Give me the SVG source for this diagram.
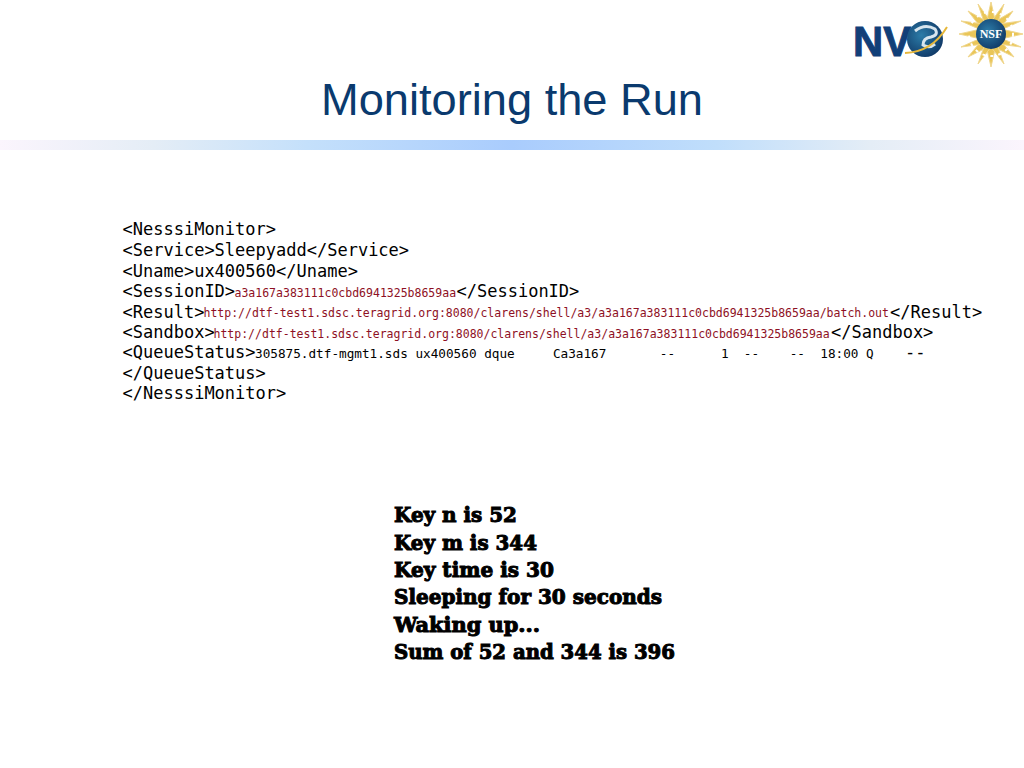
<svg xmlns="http://www.w3.org/2000/svg" width="1024" height="768" viewBox="0 0 1024 768">
<style>
.m{font-family:"DejaVu Sans Mono",monospace;font-size:17px;fill:#000}
.s{font-family:"DejaVu Sans Mono",monospace;font-size:11.5px;fill:#000;white-space:pre}
.q{font-size:12.7px}
.r{fill:#8e1024}
.k{font-family:"DejaVu Serif",serif;font-weight:bold;font-size:20px;fill:#000;stroke:#000;stroke-width:1px}
</style>
<defs>
<linearGradient id="band" x1="0" x2="1" y1="0" y2="0">
<stop offset="0" stop-color="#fbf5fd"/><stop offset=".15" stop-color="#e4edf6"/><stop offset=".3" stop-color="#c4e0fb"/><stop offset=".5" stop-color="#a9ccfd"/><stop offset=".7" stop-color="#c0defb"/><stop offset=".85" stop-color="#e4edf6"/><stop offset="1" stop-color="#fbf5fd"/>
</linearGradient>
<radialGradient id="g" cx=".4" cy=".4" r=".7"><stop offset="0" stop-color="#2c7ca8"/><stop offset="1" stop-color="#0e3462"/></radialGradient>
</defs>
<rect width="1024" height="768" fill="#fff"/>
<rect x="0" y="140" width="1024" height="10" fill="url(#band)"/>
<text id="title" x="512" y="115" text-anchor="middle" font-family="Liberation Sans,Arial,sans-serif" font-size="45" fill="#0a3a6e" textLength="382" lengthAdjust="spacingAndGlyphs">Monitoring the Run</text>
<g id="nvo-logo">
<text x="853" y="56" font-family="Liberation Sans,sans-serif" font-weight="bold" font-size="43" fill="#123f78" stroke="#123f78" stroke-width="1" textLength="58" lengthAdjust="spacingAndGlyphs">NV</text>
<circle cx="925" cy="39" r="18" fill="url(#g)"/>
<path d="M915 31q10-8 20-2q4 6-4 8q-8 1-8 8q6 4 12-1" fill="none" stroke="#d7e5ee" stroke-width="3"/>
<path d="M905 53Q932 52 947 27" fill="none" stroke="#e6b73a" stroke-width="2"/>
</g>
<g id="nsf-logo">
<g fill="#eac658" stroke="#f0d78f" stroke-width="1">
<path d="M991 2L996 24L986 24Z"/>
<path d="M1023 34L1001 39L1001 29Z"/><path d="M991 67L986 45L996 45Z"/><path d="M959 34L981 29L981 39Z"/>
<path d="M1013 11L1000 29L994 22Z"/><path d="M1014 57L994 47L1000 40Z"/><path d="M968 57L982 40L988 47Z"/><path d="M968 11L988 22L982 29Z"/>
<path d="M1004 4L997 25L991 22Z"/><path d="M1021 21L1001 30L998 24Z"/><path d="M1021 47L998 44L1001 38Z"/><path d="M1004 64L991 47L997 44Z"/><path d="M978 64L985 44L991 47Z"/><path d="M961 47L981 38L984 44Z"/><path d="M961 21L984 24L981 30Z"/><path d="M978 4L991 22L985 25Z"/>
</g>
<circle cx="991" cy="34" r="22" fill="none" stroke="#fff" stroke-width="2" stroke-dasharray="3 5"/>
<circle cx="991" cy="34" r="15" fill="url(#g)"/>
<text x="991" y="38" text-anchor="middle" font-family="Liberation Serif,serif" font-weight="bold" font-size="12" fill="#fff">NSF</text>
</g>
<g id="xml">
<text class="m" x="122.500" y="235">&lt;NesssiMonitor&gt;</text>
<text class="m" x="122.500" y="255.500">&lt;Service&gt;Sleepyadd&lt;/Service&gt;</text>
<text class="m" x="122.500" y="277">&lt;Uname&gt;ux400560&lt;/Uname&gt;</text>
<text class="m" x="122.500" y="296.500">&lt;SessionID&gt;</text>
<text class="s r" x="234.500" y="296.500">a3a167a383111c0cbd6941325b8659aa</text>
<text class="m" x="456.500" y="296.500">&lt;/SessionID&gt;</text>
<text class="m" x="122.500" y="318">&lt;Result&gt;</text>
<text class="s r" x="203.500" y="317">http://dtf-test1.sdsc.teragrid.org:8080/clarens/shell/a3/a3a167a383111c0cbd6941325b8659aa/batch.out</text>
<text class="m" x="890" y="318">&lt;/Result&gt;</text>
<text class="m" x="122.500" y="337.500">&lt;Sandbox&gt;</text>
<text class="s r" x="213.500" y="337.500">http://dtf-test1.sdsc.teragrid.org:8080/clarens/shell/a3/a3a167a383111c0cbd6941325b8659aa</text>
<text class="m" x="831" y="337.500">&lt;/Sandbox&gt;</text>
<text class="m" x="122.500" y="358">&lt;QueueStatus&gt;</text>
<text class="s q" x="255" y="358" xml:space="preserve">305875.dtf-mgmt1.sds ux400560 dque     Ca3a167       --      1  --    --  18:00 Q</text>
<text class="m" x="905" y="358">--</text>
<text class="m" x="122.500" y="378.500">&lt;/QueueStatus&gt;</text>
<text class="m" x="122.500" y="399">&lt;/NesssiMonitor&gt;</text>
</g>
<g id="output">
<text class="k" x="394" y="521.800" textLength="123" lengthAdjust="spacingAndGlyphs">Key n is 52</text>
<text class="k" x="394" y="550" textLength="143" lengthAdjust="spacingAndGlyphs">Key m is 344</text>
<text class="k" x="394" y="576.800" textLength="160" lengthAdjust="spacingAndGlyphs">Key time is 30</text>
<text class="k" x="394" y="603.800" textLength="268" lengthAdjust="spacingAndGlyphs">Sleeping for 30 seconds</text>
<text class="k" x="394" y="631.500" textLength="146" lengthAdjust="spacingAndGlyphs">Waking up...</text>
<text class="k" x="394" y="659" textLength="281" lengthAdjust="spacingAndGlyphs">Sum of 52 and 344 is 396</text>
</g>
</svg>
